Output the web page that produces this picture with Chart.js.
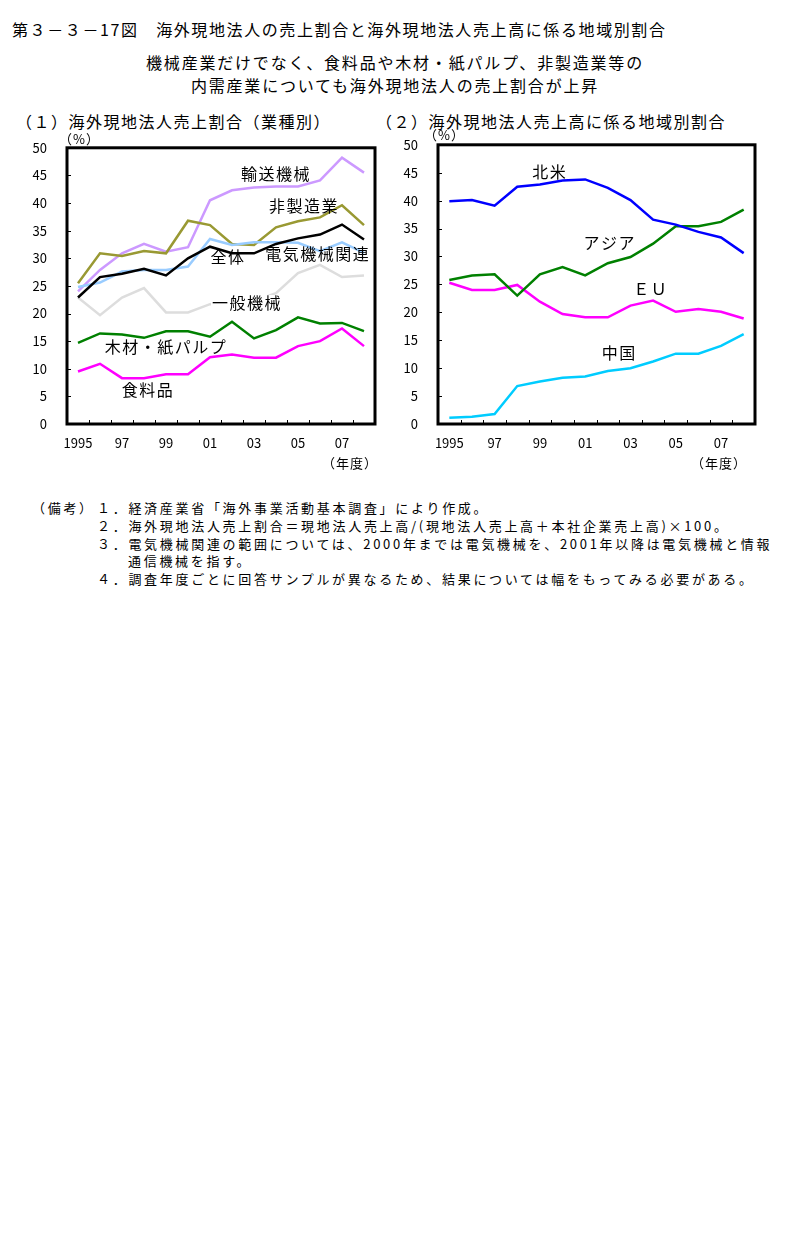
<!DOCTYPE html>
<html lang="ja">
<head>
<meta charset="utf-8">
<script src="https://cdn.jsdelivr.net/npm/chart.js@4.4.0/dist/chart.umd.min.js"></script>
<style>
  body { margin: 0; background: #fff; color: #000; font-family: "Noto Sans CJK JP", sans-serif; }
  #page { position: relative; width: 803px; height: 1238px; overflow: hidden; background: #fff; }
  .t { position: absolute; white-space: nowrap; line-height: 1; }
  .title { font-size: 16px; letter-spacing: 1.6px; }
  .sub { font-size: 16px; letter-spacing: 1.8px; left: 0; width: 790px; text-align: center; }
  .small { font-size: 13px; letter-spacing: 1px; }
  .note { font-size: 13px; letter-spacing: 2.7px; }
  canvas { position: absolute; }
</style>
</head>
<body>
<div id="page">
  <div class="t title" style="left:12px; top:21px;">第３－３－17図　海外現地法人の売上割合と海外現地法人売上高に係る地域別割合</div>
  <div class="t sub" style="top:54px;">機械産業だけでなく、食料品や木材・紙パルプ、非製造業等の</div>
  <div class="t sub" style="top:77px;">内需産業についても海外現地法人の売上割合が上昇</div>
  <div class="t title" style="left:16px; top:113px; letter-spacing:1.5px;">（１）海外現地法人売上割合（業種別）</div>
  <div class="t title" style="left:376px; top:113px; letter-spacing:1.5px;">（２）海外現地法人売上高に係る地域別割合</div>

  <canvas id="chartIndustry" width="392" height="360" style="left:0px; top:120px;"></canvas>
  <canvas id="chartRegion" width="400" height="363" style="left:400px; top:117px;"></canvas>

  <div class="t small" style="left:59px; top:132px;">（%）</div>
  <div class="t small" style="left:424px; top:128px;">（%）</div>
  <div class="t small" style="left:322px; top:456px;">（年度）</div>
  <div class="t small" style="left:691px; top:456px;">（年度）</div>

  <div class="t note" style="left:32px; top:501px;">（備考）</div>
  <div class="t note" style="left:97px; top:501px;">１．経済産業省「海外事業活動基本調査」により作成。</div>
  <div class="t note" style="left:97px; top:519px;">２．海外現地法人売上割合＝現地法人売上高/(現地法人売上高＋本社企業売上高)×100。</div>
  <div class="t note" style="left:97px; top:537px;">３．電気機械関連の範囲については、2000年までは電気機械を、2001年以降は電気機械と情報</div>
  <div class="t note" style="left:128px; top:554px;">通信機械を指す。</div>
  <div class="t note" style="left:97px; top:572px;">４．調査年度ごとに回答サンプルが異なるため、結果については幅をもってみる必要がある。</div>
</div>

<script>
// 年度（カテゴリ）と目盛りラベル
const years = ['1995', '96', '97', '98', '99', '2000', '01', '02', '03', '04', '05', '06', '07', '08'];
const yearTickLabels = ['1995', '', '97', '', '99', '', '01', '', '03', '', '05', '', '07', ''];
const percentTicks = [0, 5, 10, 15, 20, 25, 30, 35, 40, 45, 50];

// (1) 業種別 海外現地法人売上割合（%）
const yusouKikai   = [24.0, 27.9, 30.9, 32.6, 31.2, 32.0, 40.5, 42.3, 42.8, 43.0, 43.0, 44.1, 48.2, 45.5];
const hiseizougyou = [25.5, 30.9, 30.4, 31.3, 30.9, 36.8, 36.0, 32.6, 32.4, 35.6, 36.7, 37.4, 39.6, 36.0];
const zentai       = [22.9, 26.6, 27.2, 28.1, 26.9, 30.0, 32.1, 30.9, 30.9, 32.6, 33.6, 34.3, 36.1, 33.4];
const denkiKikai   = [24.8, 25.6, 27.6, 27.9, 27.9, 28.5, 33.5, 32.4, 32.9, 32.9, 32.8, 31.3, 32.9, 31.0];
const ippanKikai   = [22.9, 19.7, 22.9, 24.6, 20.2, 20.2, 21.7, 22.0, 22.3, 23.7, 27.3, 28.8, 26.6, 26.9];
const mokuzaiPulp  = [14.7, 16.4, 16.2, 15.6, 16.8, 16.8, 15.8, 18.5, 15.5, 17.0, 19.3, 18.2, 18.3, 16.8];
const shokuryouhin = [9.5, 10.9, 8.3, 8.3, 9.0, 9.0, 12.1, 12.6, 12.0, 12.0, 14.1, 15.0, 17.3, 14.1];

// (2) 地域別割合（%）
const hokubei = [39.9, 40.1, 39.1, 42.5, 42.9, 43.6, 43.8, 42.3, 40.1, 36.6, 35.7, 34.4, 33.4, 30.6];
const asia    = [25.8, 26.6, 26.8, 23.0, 26.8, 28.1, 26.6, 28.8, 29.9, 32.3, 35.4, 35.4, 36.2, 38.4];
const eu      = [25.3, 24.0, 24.0, 24.9, 21.9, 19.7, 19.1, 19.1, 21.2, 22.1, 20.1, 20.6, 20.1, 18.9];
const chugoku = [1.1, 1.3, 1.8, 6.8, 7.6, 8.3, 8.5, 9.5, 10.0, 11.2, 12.6, 12.6, 14.0, 16.1];

const FONT = '"Noto Sans CJK JP", sans-serif';

// 線の横に置く系列名（位置は軸の値で指定）
const industryNotes = [
  { text: '輸送機械', i: 9.0, v: 45.3 },
  { text: '非製造業', i: 10.27, v: 39.5 },
  { text: '全体', i: 6.82, v: 30.25 },
  { text: '電気機械関連', i: 10.9, v: 30.8 },
  { text: '一般機械', i: 7.68, v: 21.9, bg: true },
  { text: '木材・紙パルプ', i: 4.0, v: 14.0 },
  { text: '食料品', i: 3.18, v: 6.1 }
];
const regionNotes = [
  { text: '北米', i: 4.44, v: 45.2 },
  { text: 'アジア', i: 7.09, v: 32.5 },
  { text: 'ＥＵ', i: 8.9, v: 24.2 },
  { text: '中国', i: 7.5, v: 12.7 }
];

// 枠線と内向きの目盛り
const boxPlugin = {
  id: 'box',
  afterDraw(chart) {
    const ctx = chart.ctx;
    const a = chart.chartArea;
    const x = chart.scales.x;
    const y = chart.scales.y;
    ctx.save();
    ctx.strokeStyle = '#000';
    ctx.lineWidth = 1;
    ctx.beginPath();
    for (let i = 1; i < years.length; i++) {
      const px = Math.round((x.getPixelForValue(i - 1) + x.getPixelForValue(i)) / 2) + 0.5;
      ctx.moveTo(px, a.bottom);
      ctx.lineTo(px, a.bottom - 4);
    }
    y.ticks.forEach(t => {
      const py = Math.round(y.getPixelForValue(t.value)) + 0.5;
      ctx.moveTo(a.left, py);
      ctx.lineTo(a.left + 4, py);
    });
    ctx.stroke();
    ctx.lineWidth = 3;
    ctx.strokeRect(a.left, a.top, a.right - a.left, a.bottom - a.top);
    ctx.restore();
  }
};

// 系列名の描画
const notePlugin = {
  id: 'notes',
  afterDatasetsDraw(chart, args, opts) {
    const ctx = chart.ctx;
    const x = chart.scales.x;
    const y = chart.scales.y;
    ctx.save();
    ctx.font = '16px ' + FONT;
    ctx.letterSpacing = '1.5px';
    ctx.textAlign = 'center';
    ctx.textBaseline = 'middle';
    (opts.items || []).forEach(n => {
      const px = x.getPixelForValue(n.i);
      const py = y.getPixelForValue(n.v);
      if (n.bg) {
        const w = ctx.measureText(n.text).width;
        ctx.fillStyle = '#fff';
        ctx.fillRect(px - w / 2 - 1, py - 8, w + 2, 16);
      }
      ctx.fillStyle = '#000';
      ctx.fillText(n.text, px, py);
    });
    ctx.restore();
  }
};

function serie(data, color) {
  return { data: data, borderColor: color, backgroundColor: color, borderWidth: 2.5, pointRadius: 0, tension: 0, fill: false };
}

function makeChart(id, datasets, notes, yWidth, padRight) {
  return new Chart(document.getElementById(id), {
    type: 'line',
    data: { labels: years, datasets: datasets },
    options: {
      responsive: false,
      animation: false,
      layout: { padding: { top: 12, right: padRight, left: 0, bottom: 0 } },
      plugins: { legend: { display: false }, tooltip: { enabled: false }, notes: { items: notes } },
      scales: {
        x: {
          offset: true,
          grid: { display: false, drawTicks: false },
          border: { display: false },
          ticks: {
            autoSkip: false, maxRotation: 0, padding: 11, color: '#000',
            font: { family: FONT, size: 13 },
            callback: (v, i) => yearTickLabels[i]
          },
          afterFit: s => { s.height = 56; }
        },
        y: {
          min: 0, max: 50,
          grid: { display: false, drawTicks: false },
          border: { display: false },
          afterBuildTicks: s => { s.ticks = percentTicks.map(v => ({ value: v })); },
          ticks: { padding: 20, color: '#000', font: { family: FONT, size: 13 } },
          afterFit: s => { s.width = yWidth; }
        }
      }
    },
    plugins: [boxPlugin, notePlugin]
  });
}

makeChart('chartIndustry', [
  serie(zentai, '#000000'),
  serie(denkiKikai, '#99CCFF'),
  serie(hiseizougyou, '#999933'),
  serie(yusouKikai, '#CC99FF'),
  serie(ippanKikai, '#DDDDDD'),
  serie(mokuzaiPulp, '#008000'),
  serie(shokuryouhin, '#FF00FF')
], industryNotes, 67, 17);

makeChart('chartRegion', [
  serie(hokubei, '#0000FF'),
  serie(asia, '#008000'),
  serie(eu, '#FF00FF'),
  serie(chugoku, '#00CCFF')
], regionNotes, 38, 45);
</script>
</body>
</html>
